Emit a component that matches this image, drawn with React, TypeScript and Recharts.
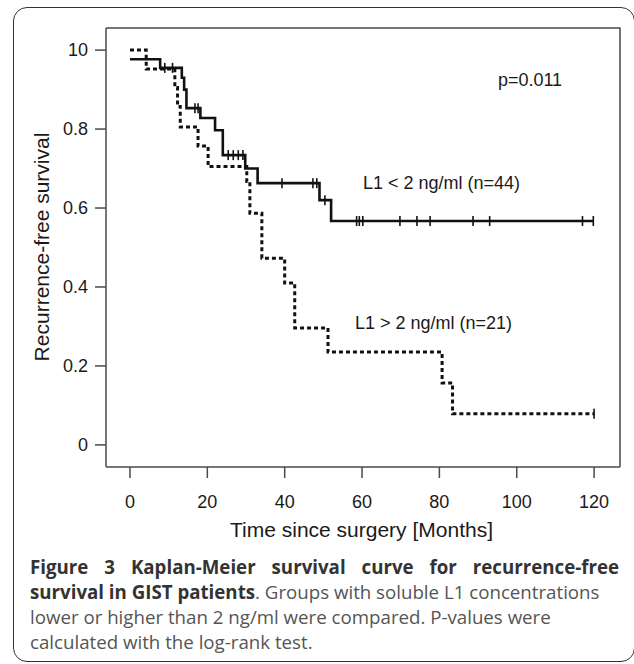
import React from 'react';
import { LineChart, Line, XAxis, YAxis } from 'recharts';

// ---- axis ticks ----
const xTicks = [0, 20, 40, 60, 80, 100, 120];
const yTicks = [0, 0.2, 0.4, 0.6, 0.8, 1.0];
const yTickLabels = ['0', '0.2', '0.4', '0.6', '0.8', '10'];

// ---- L1 < 2 ng/ml (n=44), solid ----
const lowEventTimes = [0, 7.8, 13.4, 14.0, 14.6, 18.2, 22.0, 24.0, 29.8, 33.0, 49.0, 52.0];
const lowEventSurv = [0.977, 0.955, 0.93, 0.9, 0.853, 0.828, 0.797, 0.734, 0.7, 0.663, 0.62, 0.567];
const lowCensorTimes = [9, 11, 16.8, 17.6, 25.4, 26.7, 28, 29.2, 39.3, 47.3, 48.3, 50.4, 58.6, 59.3, 60.2, 69.8, 74.2, 77.6, 88.7, 93, 117, 119.8];

// ---- L1 > 2 ng/ml (n=21), dotted ----
const highEventTimes = [0, 4.2, 11.6, 12.3, 13.0, 17.6, 20.2, 30.2, 31.0, 34.1, 40.0, 42.6, 51.2, 80.7, 83.4];
const highEventSurv = [1.0, 0.952, 0.905, 0.857, 0.805, 0.757, 0.705, 0.667, 0.587, 0.473, 0.41, 0.296, 0.235, 0.157, 0.079];
const highCensorTimes = [120];

const X_DOMAIN: [number, number] = [-6.2, 126.7];
const Y_DOMAIN: [number, number] = [-0.056, 1.056];

type Pt = { t: number; s: number; c: boolean };

function buildSeries(et: number[], es: number[], ct: number[]): Pt[] {
  const pts: Pt[] = et.map((t, i) => ({ t, s: es[i], c: false }));
  ct.forEach((t) => {
    let s = es[0];
    for (let i = 0; i < et.length; i++) if (et[i] <= t) s = es[i];
    pts.push({ t, s, c: true });
  });
  pts.sort((a, b) => a.t - b.t);
  return pts;
}

const lowData = buildSeries(lowEventTimes, lowEventSurv, lowCensorTimes);
const highData = buildSeries(highEventTimes, highEventSurv, highCensorTimes);

const FONT = '"Liberation Sans", Arial, sans-serif';
const AX = '#4a4a4a';

// plot area geometry (chart margins / axis sizes)
const CH_W = 634;
const CH_H = 540;
const M_TOP = 28;
const M_RIGHT = 14;
const Y_W = 106;
const X_H = 73;

const CensorTick = (props: any) => {
  const { cx, cy, payload, index } = props;
  if (!payload || !payload.c || cx == null) return <g key={`n${index}`} />;
  return <line key={`c${index}`} x1={cx} x2={cx} y1={cy - 5} y2={cy + 5} stroke="#111" strokeWidth={1.6} />;
};

const abs = (style: React.CSSProperties): React.CSSProperties => ({ position: 'absolute', ...style });

export default function App() {
  return (
    <div style={{ position: 'absolute', left: 0, top: 0, width: 634, height: 664, background: '#fff', overflow: 'hidden' }}>
      <div style={abs({ left: 13, top: 7, width: 622, height: 655, border: '1.5px solid #333', borderRadius: 14, boxSizing: 'border-box' })} />
      <div style={abs({ left: 0, top: 0 })}>
        <LineChart width={CH_W} height={CH_H} margin={{ top: M_TOP, right: M_RIGHT, bottom: 0, left: 0 }}>
          <XAxis
            type="number"
            dataKey="t"
            domain={X_DOMAIN}
            ticks={xTicks}
            allowDataOverflow
            height={X_H}
            tickSize={11}
            tickMargin={17}
            axisLine={{ stroke: AX, strokeWidth: 1.5 }}
            tickLine={{ stroke: AX, strokeWidth: 1.5 }}
            tick={{ fontSize: 18, fill: '#1a1a1a', fontFamily: FONT }}
          />
          <YAxis
            type="number"
            domain={Y_DOMAIN}
            ticks={yTicks}
            allowDataOverflow
            width={Y_W}
            tickSize={11}
            tickMargin={7}
            tickFormatter={(v: number) => yTickLabels[yTicks.findIndex((y) => Math.abs(y - v) < 1e-6)] ?? String(v)}
            axisLine={{ stroke: AX, strokeWidth: 1.5 }}
            tickLine={{ stroke: AX, strokeWidth: 1.5 }}
            tick={{ fontSize: 18, fill: '#1a1a1a', fontFamily: FONT }}
          />
          <Line
            data={highData}
            dataKey="s"
            type="stepAfter"
            stroke="#111"
            strokeWidth={3}
            strokeDasharray="4 3"
            dot={CensorTick}
            activeDot={false}
            isAnimationActive={false}
          />
          <Line
            data={lowData}
            dataKey="s"
            type="stepAfter"
            stroke="#111"
            strokeWidth={2.6}
            dot={CensorTick}
            activeDot={false}
            isAnimationActive={false}
          />
        </LineChart>
      </div>
      {/* plot frame: top and right edges */}
      <svg width={CH_W} height={CH_H} style={abs({ left: 0, top: 0, pointerEvents: 'none' })}>
        <polyline
          points={`${Y_W},${M_TOP} ${CH_W - M_RIGHT},${M_TOP} ${CH_W - M_RIGHT},${CH_H - X_H}`}
          fill="none"
          stroke={AX}
          strokeWidth={1.5}
        />
      </svg>

      <div style={abs({ left: 530, top: 80, transform: 'translate(-50%, -50%)', fontFamily: FONT, fontSize: 18, color: '#1a1a1a', whiteSpace: 'nowrap' })}>p=0.011</div>
      <div style={abs({ left: 363, top: 183, transform: 'translateY(-50%)', fontFamily: FONT, fontSize: 18, color: '#1a1a1a', whiteSpace: 'nowrap' })}>L1 &lt; 2 ng/ml (n=44)</div>
      <div style={abs({ left: 355, top: 323, transform: 'translateY(-50%)', fontFamily: FONT, fontSize: 18, color: '#1a1a1a', whiteSpace: 'nowrap' })}>L1 &gt; 2 ng/ml (n=21)</div>

      <div style={abs({ left: 361.5, top: 530, transform: 'translate(-50%, -50%)', fontFamily: FONT, fontSize: 21, color: '#1a1a1a', whiteSpace: 'nowrap' })}>Time since surgery [Months]</div>
      <div style={abs({ left: 42, top: 247, transform: 'translate(-50%, -50%) rotate(-90deg)', fontFamily: FONT, fontSize: 21, color: '#1a1a1a', whiteSpace: 'nowrap' })}>Recurrence-free survival</div>

      <div style={abs({ left: 30, top: 554, width: 589, fontFamily: '"Open Sans", sans-serif', fontSize: 18.7, lineHeight: '25px', color: '#555' })}>
        <div style={{ fontWeight: 700, color: '#333', textAlign: 'justify', textAlignLast: 'justify' as any, whiteSpace: 'nowrap' }}>
          Figure 3 Kaplan-Meier survival curve for recurrence-free
        </div>
        <div style={{ whiteSpace: 'nowrap' }}>
          <span style={{ fontWeight: 700, color: '#333' }}>survival in GIST patients</span>. Groups with soluble L1 concentrations
        </div>
        <div style={{ whiteSpace: 'nowrap' }}>lower or higher than 2 ng/ml were compared. P-values were</div>
        <div style={{ whiteSpace: 'nowrap' }}>calculated with the log-rank test.</div>
      </div>
    </div>
  );
}
